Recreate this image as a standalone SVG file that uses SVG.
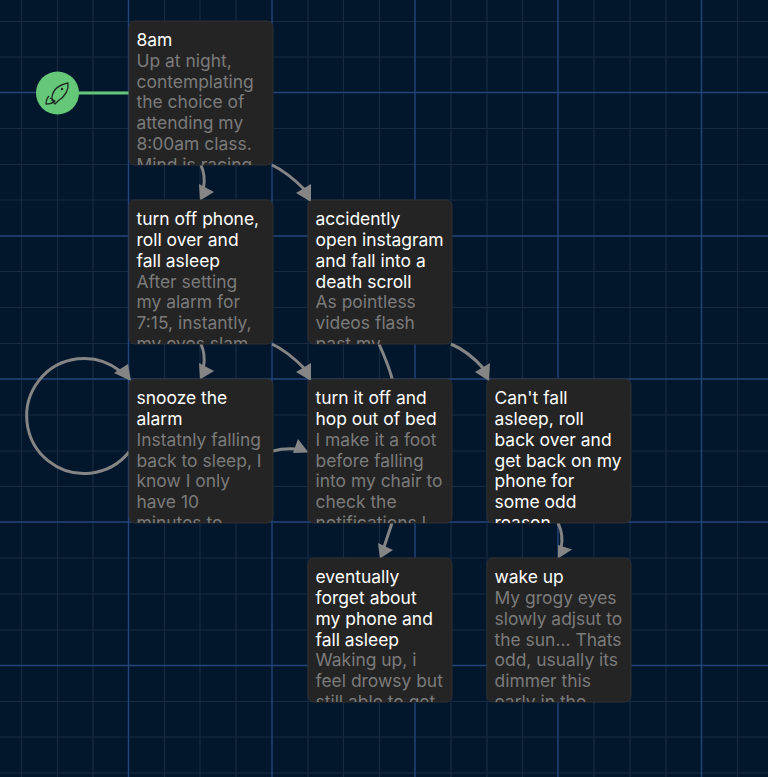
<svg xmlns="http://www.w3.org/2000/svg" width="768" height="777" viewBox="0 0 768 777">
<style>
.mi{stroke:#192a40;stroke-width:1.200;fill:none}
.ma{stroke:#24457a;stroke-width:1.400;fill:none}
.box{fill:#242424;stroke:#303030;stroke-width:1}
text{font-family:Inter,"Liberation Sans",sans-serif;font-size:17.450px}
.t{fill:#fff}
.d{fill:#7b7b7b}
.c{fill:none;stroke:#858585;stroke-width:3}
.h{fill:#858585}
</style>
<defs>
<clipPath id="c1"><rect x="129" y="21" width="144" height="144" rx="6"/></clipPath>
<clipPath id="c2"><rect x="129" y="200" width="144" height="144" rx="6"/></clipPath>
<clipPath id="c3"><rect x="308" y="200" width="144" height="144" rx="6"/></clipPath>
<clipPath id="c4"><rect x="129" y="379" width="144" height="144" rx="6"/></clipPath>
<clipPath id="c5"><rect x="308" y="379" width="144" height="144" rx="6"/></clipPath>
<clipPath id="c6"><rect x="487" y="379" width="144" height="144" rx="6"/></clipPath>
<clipPath id="c7"><rect x="308" y="558" width="144" height="144" rx="6"/></clipPath>
<clipPath id="c8"><rect x="487" y="558" width="144" height="144" rx="6"/></clipPath>
</defs>
<rect width="768" height="777" fill="#03172c"/>
<g id="grid">
<path class="mi" d="M21.500 0V777M57.500 0V777M93 0V777M164.500 0V777M200 0V777M236 0V777M308 0V777M343.500 0V777M379.500 0V777M451 0V777M487 0V777M522.500 0V777M594 0V777M630 0V777M666 0V777M737.500 0V777M0 21.500H768M0 57H768M0 128.500H768M0 164.500H768M0 200H768M0 271.500H768M0 307.500H768M0 343.500H768M0 415H768M0 451H768M0 486.500H768M0 558H768M0 594H768M0 630H768M0 701.500H768M0 737H768M0 773H768"/>
<path class="ma" d="M128.500 0V777M272 0V777M415 0V777M558 0V777M701.500 0V777M0 92.500H768M0 236H768M0 379H768M0 522H768M0 665.500H768"/>
</g>
<g id="connectors">
<path d="M78 93H130" fill="none" stroke="#64c878" stroke-width="3"/>
<path class="c" d="M201 165C204 172 205 180 203.500 188"/>
<path class="h" d="M200 200.500L214 192L199 184Z"/>
<path class="c" d="M272 165C285 171 297 182 305 190"/>
<path class="h" d="M311 202L311 184L296 193Z"/>
<path class="c" d="M201 344C204 351 205 359 203.500 367"/>
<path class="h" d="M200 379.500L214 371L199 363Z"/>
<path class="c" d="M272 344C285 350 297 361 305 369"/>
<path class="h" d="M311 381L311 363L296 372Z"/>
<path class="c" d="M379 344C384 355 389 367 392.500 380"/>
<path class="c" d="M451 344C465 350 477 361 484 369"/>
<path class="h" d="M489 381L490 363L475 372Z"/>
<path class="c" d="M129 452A57.500 57.500 0 1 1 120 371"/>
<path class="h" d="M131 381L114 373L128 364Z"/>
<path class="c" d="M273 451C280 449 287 448 296 449"/>
<path class="h" d="M308.500 452.500L298 439L293 453Z"/>
<path class="c" d="M392 523L384 547"/>
<path class="h" d="M380 558.500L393 550L378 543Z"/>
<path class="c" d="M558 523C562 531 563 539 561 548"/>
<path class="h" d="M558 558.500L572 549.500L558 545Z"/>
</g>
<g id="start">
<circle cx="57.500" cy="93" r="21.500" fill="#64c878"/>
<path d="M52 97C53 90 58 85 68 83C69 91 64 97 58 101L55 104L52 100ZM49 96C47 98 46 102 46 104C50 104 53 103 55 101L50 98" fill="none" stroke="#1f2a22" stroke-width="1.300" stroke-linejoin="round"/>
<circle cx="62" cy="89" r="1.200" fill="#1f2a22"/>
</g>
<g id="n1"><rect class="box" x="129" y="21" width="144" height="144" rx="6"/>
<g clip-path="url(#c1)"><text class="t" x="136.500" y="45.500">8am</text><text class="d" x="136.500" y="66.500">Up at night,</text><text class="d" x="136.500" y="87.500">contemplating</text><text class="d" x="136.500" y="108">the choice of</text><text class="d" x="136.500" y="129">attending my</text><text class="d" x="136.500" y="149.500">8:00am class.</text><text class="d" x="136.500" y="170.500">Mind is racing</text></g></g>
<g id="n2"><rect class="box" x="129" y="200" width="144" height="144" rx="6"/>
<g clip-path="url(#c2)"><text class="t" x="136.500" y="225">turn off phone,</text><text class="t" x="136.500" y="246">roll over and</text><text class="t" x="136.500" y="266.500">fall asleep</text><text class="d" x="136.500" y="287.500">After setting</text><text class="d" x="136.500" y="308">my alarm for</text><text class="d" x="136.500" y="329">7:15, instantly,</text><text class="d" x="136.500" y="349.500">my eyes slam</text></g></g>
<g id="n3"><rect class="box" x="308" y="200" width="144" height="144" rx="6"/>
<g clip-path="url(#c3)"><text class="t" x="315.500" y="225">accidently</text><text class="t" x="315.500" y="246">open instagram</text><text class="t" x="315.500" y="266.500">and fall into a</text><text class="t" x="315.500" y="287.500">death scroll</text><text class="d" x="315.500" y="308">As pointless</text><text class="d" x="315.500" y="329">videos flash</text><text class="d" x="315.500" y="349.500">past my</text></g></g>
<g id="n4"><rect class="box" x="129" y="379" width="144" height="144" rx="6"/>
<g clip-path="url(#c4)"><text class="t" x="136.500" y="404">snooze the</text><text class="t" x="136.500" y="425">alarm</text><text class="d" x="136.500" y="445.500">Instatnly falling</text><text class="d" x="136.500" y="466.500">back to sleep, I</text><text class="d" x="136.500" y="487">know I only</text><text class="d" x="136.500" y="508">have 10</text><text class="d" x="136.500" y="528.500">minutes to</text></g></g>
<g id="n5"><rect class="box" x="308" y="379" width="144" height="144" rx="6"/>
<g clip-path="url(#c5)"><text class="t" x="315.500" y="404">turn it off and</text><text class="t" x="315.500" y="425">hop out of bed</text><text class="d" x="315.500" y="445.500">I make it a foot</text><text class="d" x="315.500" y="466.500">before falling</text><text class="d" x="315.500" y="487">into my chair to</text><text class="d" x="315.500" y="508">check the</text><text class="d" x="315.500" y="528.500">notifications I</text></g></g>
<g id="n6"><rect class="box" x="487" y="379" width="144" height="144" rx="6"/>
<g clip-path="url(#c6)"><text class="t" x="494.500" y="404">Can't fall</text><text class="t" x="494.500" y="425">asleep, roll</text><text class="t" x="494.500" y="445.500">back over and</text><text class="t" x="494.500" y="466.500">get back on my</text><text class="t" x="494.500" y="487">phone for</text><text class="t" x="494.500" y="508">some odd</text><text class="t" x="494.500" y="528.500">reason</text></g></g>
<g id="n7"><rect class="box" x="308" y="558" width="144" height="144" rx="6"/>
<g clip-path="url(#c7)"><text class="t" x="315.500" y="583">eventually</text><text class="t" x="315.500" y="604">forget about</text><text class="t" x="315.500" y="624.500">my phone and</text><text class="t" x="315.500" y="645.500">fall asleep</text><text class="d" x="315.500" y="666">Waking up, i</text><text class="d" x="315.500" y="687">feel drowsy but</text><text class="d" x="315.500" y="707.500">still able to get</text></g></g>
<g id="n8"><rect class="box" x="487" y="558" width="144" height="144" rx="6"/>
<g clip-path="url(#c8)"><text class="t" x="494.500" y="583">wake up</text><text class="d" x="494.500" y="604">My grogy eyes</text><text class="d" x="494.500" y="624.500">slowly adjsut to</text><text class="d" x="494.500" y="645.500">the sun... Thats</text><text class="d" x="494.500" y="666">odd, usually its</text><text class="d" x="494.500" y="687">dimmer this</text><text class="d" x="494.500" y="707.500">early in the</text></g></g>
</svg>
